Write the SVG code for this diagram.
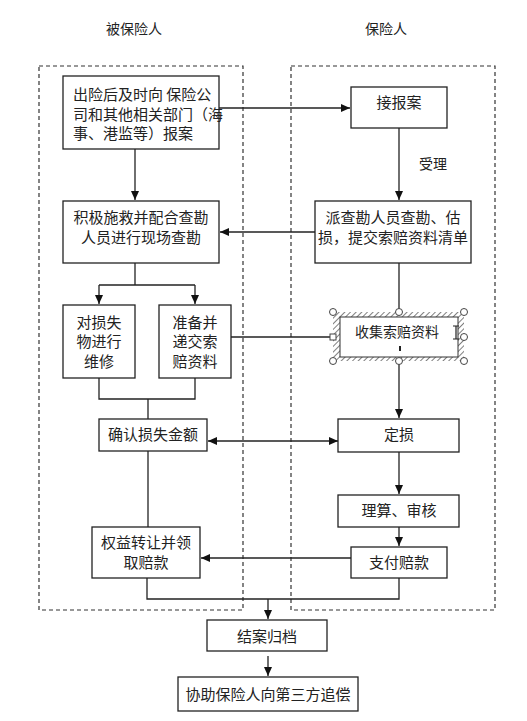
<svg xmlns="http://www.w3.org/2000/svg" width="527" height="721" viewBox="0 0 527 721">
<defs>
<marker id="ah" markerWidth="10" markerHeight="10" refX="9" refY="5" orient="auto" markerUnits="userSpaceOnUse">
<path d="M0,1 L9,5 L0,9 Z" fill="#111"/>
</marker>
<marker id="ahs" markerWidth="10" markerHeight="10" refX="1" refY="5" orient="auto" markerUnits="userSpaceOnUse">
<path d="M10,1 L1,5 L10,9 Z" fill="#111"/>
</marker>
<pattern id="hatch" width="4" height="4" patternUnits="userSpaceOnUse" patternTransform="rotate(45)">
<rect width="4" height="4" fill="#fff"/>
<line x1="0" y1="0" x2="0" y2="4" stroke="#555" stroke-width="1.5"/>
</pattern>
</defs>
<style>
text{font-family:"Noto Sans CJK SC","Liberation Sans",sans-serif;font-size:15px;fill:#222;}
.t{font-size:14px;}
.c{text-anchor:middle;}
.box{fill:#fff;stroke:#222;stroke-width:1.3;}
.lane{fill:none;stroke:#333;stroke-width:1.2;stroke-dasharray:4,3;}
.ln{fill:none;stroke:#222;stroke-width:1.3;}
.h{fill:#fff;stroke:#444;stroke-width:1;}
</style>
<rect width="527" height="721" fill="#fff"/>

<g id="lanes">
<rect class="lane" x="39" y="66" width="204" height="544"/>
<rect class="lane" x="291" y="66" width="204" height="544"/>
<text class="t c" x="134" y="34">被保险人</text>
<text class="t c" x="386" y="34">保险人</text>
</g>

<g id="connectors">
<path class="ln" d="M219,108 H350" marker-end="url(#ah)"/>
<path class="ln" d="M135,149 V200" marker-end="url(#ah)"/>
<path class="ln" d="M399,128 V200" marker-end="url(#ah)"/>
<text class="t" x="419" y="169">受理</text>
<path class="ln" d="M315,232 H220" marker-end="url(#ah)"/>
<path class="ln" d="M135,263 V285"/>
<path class="ln" d="M99,285 H195"/>
<path class="ln" d="M99,285 V304" marker-end="url(#ah)"/>
<path class="ln" d="M195,285 V304" marker-end="url(#ah)"/>
<path class="ln" d="M231,337 H334"/>
<path class="ln" d="M399,263 V312"/>
<path class="ln" d="M99,378 V399 H195 V378"/>
<path class="ln" d="M148,399 V419"/>
<path class="ln" d="M399,362 V418" marker-end="url(#ah)"/>
<path class="ln" d="M208,441 H338" marker-start="url(#ahs)" marker-end="url(#ah)"/>
<path class="ln" d="M148,451 V527"/>
<path class="ln" d="M399,452 V494" marker-end="url(#ah)"/>
<path class="ln" d="M399,527 V546" marker-end="url(#ah)"/>
<path class="ln" d="M351,558 H201" marker-end="url(#ah)"/>
<path class="ln" d="M147,578 V599 H399 V578"/>
<path class="ln" d="M268,599 V619" marker-end="url(#ah)"/>
<path class="ln" d="M268,656 V676" marker-end="url(#ah)"/>
</g>

<g id="n1">
<rect class="box" x="63" y="76" width="156" height="73"/>
<text x="73" y="100">出险后及时向 保险公</text>
<text x="73" y="120">司和其他相关部门（海</text>
<text x="73" y="139">事、港监等）报案</text>
</g>

<g id="n2">
<rect class="box" x="351" y="87" width="96" height="41"/>
<text class="c" x="399" y="108">接报案</text>
</g>

<g id="n3">
<rect class="box" x="63" y="201" width="156" height="62"/>
<text class="c" x="141" y="223">积极施救并配合查勘</text>
<text class="c" x="141" y="243">人员进行现场查勘</text>
</g>

<g id="n4">
<rect class="box" x="315" y="201" width="156" height="62"/>
<text class="c" x="393" y="223">派查勘人员查勘、估</text>
<text class="c" x="393" y="243">损，提交索赔资料清单</text>
</g>

<g id="n5">
<rect class="box" x="63" y="305" width="72" height="73"/>
<text class="c" x="99" y="328">对损失</text>
<text class="c" x="99" y="347">物进行</text>
<text class="c" x="99" y="367">维修</text>
</g>

<g id="n6">
<rect class="box" x="159" y="305" width="72" height="73"/>
<text class="c" x="195" y="328">准备并</text>
<text class="c" x="195" y="347">递交索</text>
<text class="c" x="195" y="367">赔资料</text>
</g>

<g id="n7">
<rect x="333" y="312" width="131" height="49" fill="url(#hatch)"/>
<rect x="340" y="317" width="118" height="40" fill="#fff" stroke="#333" stroke-width="1"/>
<text class="t c" x="397" y="337">收集索赔资料</text>
<path d="M453,326 H459 M456,326 V339 M453,339 H459" stroke="#222" stroke-width="1.2" fill="none"/>
<rect x="399" y="346" width="2" height="5" fill="#222"/>
<circle class="h" cx="333" cy="312" r="3.5"/>
<circle class="h" cx="399" cy="312" r="3.5"/>
<circle class="h" cx="464" cy="312" r="3.5"/>
<rect class="h" x="330" y="334" width="6" height="6"/>
<circle class="h" cx="464" cy="337" r="3.5"/>
<circle class="h" cx="333" cy="361" r="3.5"/>
<circle class="h" cx="399" cy="361" r="3.5"/>
<circle class="h" cx="464" cy="361" r="3.5"/>
</g>

<g id="n8">
<rect class="box" x="99" y="419" width="108" height="32"/>
<text class="c" x="153" y="440">确认损失金额</text>
</g>

<g id="n9">
<rect class="box" x="338" y="419" width="121" height="33"/>
<text class="c" x="399" y="440">定损</text>
</g>

<g id="n10">
<rect class="box" x="338" y="495" width="121" height="32"/>
<text class="c" x="399" y="516">理算、审核</text>
</g>

<g id="n11">
<rect class="box" x="92" y="527" width="108" height="51"/>
<text class="c" x="146" y="548">权益转让并领</text>
<text class="c" x="146" y="568">取赔款</text>
</g>

<g id="n12">
<rect class="box" x="351" y="547" width="96" height="31"/>
<text class="c" x="399" y="568">支付赔款</text>
</g>

<g id="n13">
<rect class="box" x="207" y="620" width="120" height="31"/>
<text class="c" x="267" y="642">结案归档</text>
</g>

<g id="n14">
<rect class="box" x="178" y="677" width="180" height="34"/>
<text class="c" x="268" y="700">协助保险人向第三方追偿</text>
</g>
</svg>
